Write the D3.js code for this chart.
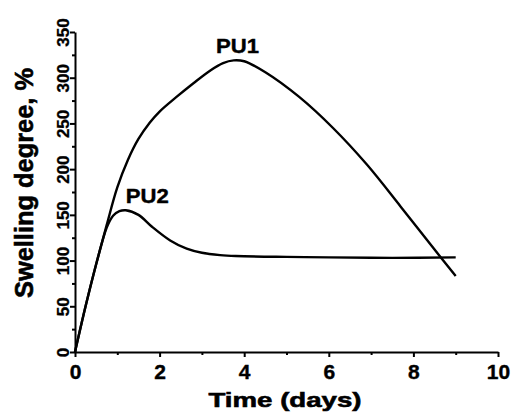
<!DOCTYPE html>
<html>
<head>
<meta charset="utf-8">
<script src="https://d3js.org/d3.v7.min.js"></script>
<style>
  body { margin: 0; background: #fff; }
  svg { display: block; }
</style>
</head>
<body>
<svg id="chart" width="513" height="412"></svg>
<script>
// Data
var pu1Days   = [0, 0.25, 0.5, 0.75, 1.0, 1.25, 1.5, 1.77, 2.0, 2.4, 2.8, 3.2, 3.5, 3.75, 4.0, 4.5, 5.3, 6.1, 6.9, 7.7, 8.5, 9.0];
var pu1Values = [0, 50, 96, 139, 180, 210, 233, 251, 263, 279, 294, 308, 316, 319, 318, 306, 279, 245, 205, 159, 112, 83];
var pu2Days   = [0, 0.25, 0.5, 0.75, 0.9, 1.05, 1.2, 1.5, 1.82, 2.25, 2.64, 3.0, 3.43, 3.8, 5.0, 6.0, 7.5, 9.0];
var pu2Values = [0, 50, 96, 136, 149, 154, 155, 150, 137, 122, 113, 108.5, 106, 105, 104, 103.5, 103, 103.5];
var seriesNames = ["PU1", "PU2"];
var xTicks = [0, 2, 4, 6, 8, 10];
var xMinor = [1, 3, 5, 7, 9];
var yTicks = [0, 50, 100, 150, 200, 250, 300, 350];
var yMinor = [25, 75, 125, 175, 225, 275, 325];

var svg = d3.select("#chart")
  .attr("font-family", "'Liberation Sans', Arial, sans-serif")
  .attr("font-weight", "bold");

var x = d3.scaleLinear().domain([0, 10]).range([75, 498]);
var y = d3.scaleLinear().domain([0, 350]).range([352, 32]);

// Axes
var xAxis = svg.append("g")
  .attr("transform", "translate(0," + y(0) + ")")
  .call(d3.axisBottom(x).tickValues(xTicks).tickSize(5).tickSizeOuter(0).tickFormat(d3.format("d")));
xAxis.append("g")
  .call(d3.axisBottom(x).tickValues(xMinor).tickSize(3).tickFormat(""))
  .select(".domain").remove();

var yAxis = svg.append("g")
  .attr("transform", "translate(" + x(0) + ",0)")
  .call(d3.axisLeft(y).tickValues(yTicks).tickSize(5).tickSizeOuter(0).tickFormat(d3.format("d")));
yAxis.append("g")
  .call(d3.axisLeft(y).tickValues(yMinor).tickSize(3).tickFormat(""))
  .select(".domain").remove();

svg.selectAll(".domain, .tick line")
  .attr("stroke", "#000")
  .attr("stroke-width", 2);

xAxis.selectAll(".tick text")
  .attr("font-size", 21)
  .attr("font-family", null)
  .attr("fill", "#000")
  .attr("stroke", "#000")
  .attr("stroke-width", 0.4)
  .attr("y", 27)
  .attr("dy", 0);

yAxis.selectAll(".tick text")
  .attr("font-size", 17)
  .attr("font-family", null)
  .attr("fill", "#000")
  .attr("stroke", "#000")
  .attr("stroke-width", 0.3)
  .attr("text-anchor", "middle")
  .attr("x", null)
  .attr("dy", 0)
  .attr("transform", "translate(-6,0) rotate(-90)");

svg.selectAll(".tick text").filter(function() { return this.textContent === ""; }).remove();

// Axis titles
svg.append("text")
  .attr("x", 285)
  .attr("y", 407)
  .attr("text-anchor", "middle")
  .attr("font-size", 21)
  .attr("stroke", "#000")
  .attr("stroke-width", 0.6)
  .attr("textLength", 153)
  .attr("lengthAdjust", "spacingAndGlyphs")
  .text("Time (days)");

svg.append("text")
  .attr("transform", "translate(33,183) rotate(-90)")
  .attr("text-anchor", "middle")
  .attr("font-size", 25)
  .attr("stroke", "#000")
  .attr("stroke-width", 0.6)
  .attr("textLength", 230)
  .attr("lengthAdjust", "spacingAndGlyphs")
  .text("Swelling degree, %");

// Curves
var line = d3.line()
  .x(function(d) { return x(d[0]); })
  .y(function(d) { return y(d[1]); })
  .curve(d3.curveCatmullRom.alpha(0.5));

var series = [d3.zip(pu1Days, pu1Values), d3.zip(pu2Days, pu2Values)];

svg.selectAll(".curve")
  .data(series)
  .enter().append("path")
    .attr("class", "curve")
    .attr("d", line)
    .attr("fill", "none")
    .attr("stroke", "#000")
    .attr("stroke-width", 2.4)
    .attr("stroke-linejoin", "round");

// Curve labels
var labelPos = [[3.84, 52.7], [1.71, 203]];
svg.selectAll(".curve-label")
  .data(seriesNames)
  .enter().append("text")
    .attr("class", "curve-label")
    .attr("x", function(d, i) { return x(labelPos[i][0]); })
    .attr("y", function(d, i) { return labelPos[i][1]; })
    .attr("text-anchor", "middle")
    .attr("font-size", 20)
    .attr("stroke", "#000")
    .attr("stroke-width", 0.4)
    .attr("textLength", 43)
    .attr("lengthAdjust", "spacingAndGlyphs")
    .text(function(d) { return d; });
</script>
</body>
</html>
